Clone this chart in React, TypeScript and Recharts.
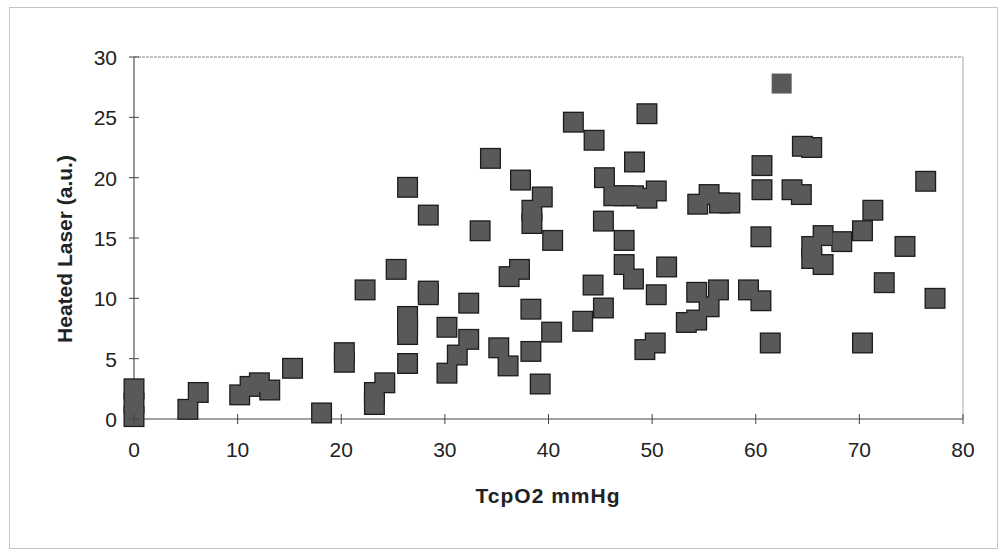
import React from 'react';
import { ScatterChart, Scatter, XAxis, YAxis, ReferenceLine } from 'recharts';

// TcpO2 (mmHg) vs heated laser reading
const tcpO2 = [
  0, 0, 0, 5.2, 6.2, 10.2, 11.2, 12.1, 13.1, 15.3, 18.1, 20.3, 20.3, 22.3,
  23.2, 23.2, 24.2, 25.3, 26.4, 26.4, 26.4, 26.4, 26.4, 28.4, 28.4, 28.4,
  30.2, 30.2, 31.2, 32.3, 32.3, 33.4, 34.4, 35.2, 36.1, 36.2, 37.2, 37.3,
  38.3, 38.3, 38.4, 38.4, 39.4, 40.4, 39.2, 40.3, 42.4, 44.4, 49.5, 48.3,
  45.4, 46.3, 47.3, 48.2, 49.5, 50.4, 45.3, 47.3, 47.3, 48.2, 51.4, 44.3,
  50.4, 43.3, 45.3, 49.3, 50.3, 53.3, 54.3, 55.5, 54.3, 56.4, 59.3, 60.5,
  54.4, 55.5, 56.5, 57.5, 60.6, 60.6, 60.5, 61.4, 64.5, 65.4, 63.5, 64.4,
  65.4, 65.4, 66.5, 66.5, 68.3, 70.3, 71.3, 74.4, 76.4, 72.4, 77.3, 70.3,
];
const laser = [
  0.2, 1.3, 2.5, 0.8, 2.2, 2.0, 2.7, 3.0, 2.4, 4.2, 0.5, 5.5, 4.7, 10.7,
  1.2, 2.2, 3.0, 12.4, 19.2, 8.5, 7.8, 7.0, 4.6, 16.9, 10.6, 10.3,
  7.6, 3.8, 5.3, 6.6, 9.6, 15.6, 21.6, 5.9, 4.4, 11.8, 12.4, 19.8,
  9.1, 5.6, 17.3, 16.2, 18.4, 14.8, 2.9, 7.2, 24.6, 23.1, 25.3, 21.3,
  20.0, 18.5, 18.5, 18.5, 18.3, 18.9, 16.4, 14.8, 12.8, 11.6, 12.6, 11.1,
  10.3, 8.1, 9.2, 5.75, 6.3, 8.0, 8.2, 9.3, 10.5, 10.7, 10.7, 9.8,
  17.8, 18.6, 17.9, 17.9, 21.0, 19.0, 15.1, 6.3, 22.6, 22.5, 19.0, 18.6,
  14.3, 13.3, 12.8, 15.2, 14.7, 15.6, 17.3, 14.3, 19.7, 11.3, 10.0, 6.3,
];
// the one marker drawn without an outline
const outlierX = [62.5];
const outlierY = [27.8];

const xTicks = [0, 10, 20, 30, 40, 50, 60, 70, 80];
const yTicks = [0, 5, 10, 15, 20, 25, 30];

const points = tcpO2.map((x, i) => ({ x, y: laser[i] }));
const outliers = outlierX.map((x, i) => ({ x, y: outlierY[i] }));

const FONT = 'Liberation Sans, Arial, sans-serif';

// outline layer drawn first, fill layer on top, so overlapping squares merge
const OutlineSquare = (props: any) => {
  const { cx, cy } = props;
  return <rect x={cx - 10.5} y={cy - 10.5} width={21} height={21} fill="#1c1c1c" />;
};

const FillSquare = (props: any) => {
  const { cx, cy } = props;
  return <rect x={cx - 9.2} y={cy - 9.2} width={18.4} height={18.4} fill="#595959" />;
};

const PlainSquare = (props: any) => {
  const { cx, cy } = props;
  return <rect x={cx - 10} y={cy - 10} width={20} height={20} fill="#575a59" />;
};

const XTick = ({ x, y, payload }: any) => (
  <g>
    <line x1={x} x2={x} y1={y - 5} y2={y + 5} stroke="#444" />
    <text x={x} y={y + 38} textAnchor="middle" fontSize={21} fontFamily={FONT} fill="#222">
      {payload.value}
    </text>
  </g>
);

const YTick = ({ x, y, payload }: any) => (
  <g>
    <line x1={x - 5} x2={x + 5} y1={y} y2={y} stroke="#444" />
    <text x={x - 17} y={y + 8} textAnchor="end" fontSize={21} fontFamily={FONT} fill="#222">
      {payload.value}
    </text>
  </g>
);

export default function App() {
  return (
    <div style={{ position: 'absolute', left: 0, top: 0, width: 1001, height: 551, background: '#fff' }}>
      <ScatterChart width={1001} height={551} margin={{ top: 57, right: 38, bottom: 102, left: 74 }}>
        <XAxis
          type="number"
          dataKey="x"
          domain={[0, 80]}
          ticks={xTicks}
          height={30}
          tickSize={0}
          tickMargin={0}
          tick={<XTick />}
          axisLine={{ stroke: '#444', strokeWidth: 1.2 }}
          tickLine={false}
        />
        <YAxis
          type="number"
          dataKey="y"
          domain={[0, 30]}
          ticks={yTicks}
          width={60}
          tickSize={0}
          tickMargin={0}
          tick={<YTick />}
          axisLine={{ stroke: '#555', strokeWidth: 1.2 }}
          tickLine={false}
        />
        <ReferenceLine y={30} stroke="#888" strokeDasharray="3 1" />
        <ReferenceLine x={80} stroke="#aaa" />
        <Scatter data={points} shape={<OutlineSquare />} isAnimationActive={false} />
        <Scatter data={points} shape={<FillSquare />} isAnimationActive={false} />
        <Scatter data={outliers} shape={<PlainSquare />} isAnimationActive={false} />
      </ScatterChart>
      <svg
        width={1001}
        height={551}
        style={{ position: 'absolute', left: 0, top: 0, pointerEvents: 'none' }}
      >
        <rect x={9.5} y={7.5} width={988} height={541} fill="none" stroke="#c4c4c4" />
        <text
          x={548}
          y={503}
          textAnchor="middle"
          fontSize={21}
          fontWeight="bold"
          fontFamily={FONT}
          letterSpacing={1}
          fill="#222"
        >
          TcpO2 mmHg
        </text>
        <text
          transform="translate(72, 249) rotate(-90)"
          textAnchor="middle"
          fontSize={21}
          fontWeight="bold"
          fontFamily={FONT}
          fill="#222"
        >
          Heated Laser (a.u.)
        </text>
      </svg>
    </div>
  );
}
